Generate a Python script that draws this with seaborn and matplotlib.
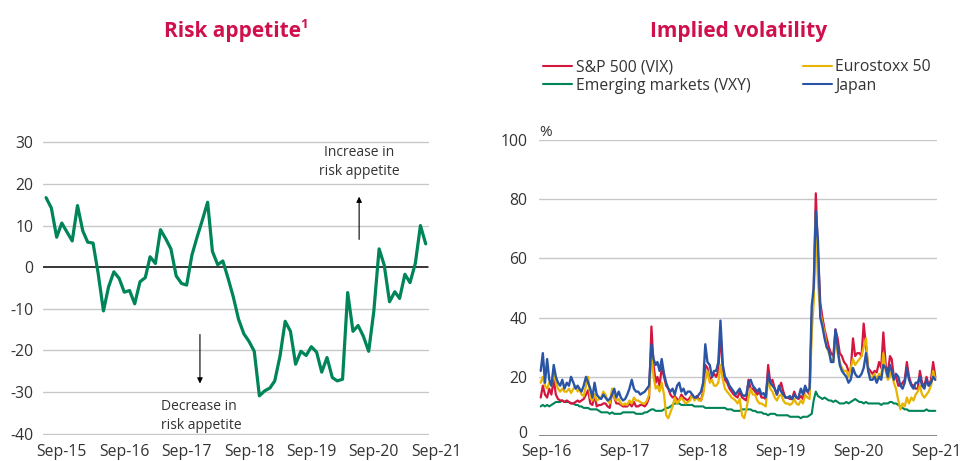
import matplotlib
matplotlib.use("Agg")
import matplotlib.pyplot as plt
import matplotlib.dates as mdates
import matplotlib.transforms as mtransforms
import seaborn as sns
import pandas as pd

# ---------------- data ----------------
# Left panel: risk appetite index, monthly (Jun-2015 .. Jul-2021)
risk_start = "2015-06-30"
risk_appetite = [
    16.7, 14.2, 7.2, 10.6, 8.4, 6.3, 14.8, 8.7, 6.0, 5.8, -1.5, -10.5,
    -4.7, -1.1, -2.7, -6.0, -5.6, -8.8, -3.5, -2.5, 2.5, 0.9, 9.0, 6.8,
    4.4, -2.1, -3.9, -4.3, 2.9, 7.2, 11.3, 15.6, 3.8, 0.6, 1.5, -2.7,
    -7.1, -12.5, -16.0, -17.8, -20.2, -30.9, -29.7, -29.0, -27.3, -21.3, -13.0, -15.4,
    -23.3, -20.2, -21.2, -19.1, -20.4, -25.2, -21.7, -26.5, -27.3, -26.9, -6.1, -15.4,
    -14.0, -16.6, -20.2, -10.6, 4.4, 0.5, -8.3, -5.9, -7.5, -1.7, -3.7, 0.9,
    10.0, 5.6,
]
risk_yticks = [-40, -30, -20, -10, 0, 10, 20, 30]
risk_xlabels = ["Sep-15", "Sep-16", "Sep-17", "Sep-18", "Sep-19", "Sep-20", "Sep-21"]

# Right panel: implied volatility, three readings per month (Sep-2016 .. Sep-2021)
vol_months = ("2016-09-01", "2021-09-01")
vol_days = [4, 14, 24]
sp500 = [
    13, 17, 14, 13, 16, 14, 19, 14, 12.5, 12, 12, 11.5,
    12, 11.5, 11, 11, 11.5, 12, 11.5, 12, 12.5, 14, 15.5, 11,
    10.5, 14, 10, 10.5, 10.5, 11, 11, 10, 9.5, 15, 13, 11,
    11, 10.5, 10, 10, 10, 11, 10, 11.5, 10, 10, 10.5, 10.5,
    10, 11, 13, 37, 24, 18, 20, 17, 23, 20, 17, 16,
    14, 13, 13.5, 12.5, 12, 14, 13, 12.5, 12, 13, 14, 12.5,
    13.5, 12.5, 12, 15, 24, 23, 19, 20, 21, 20, 22, 35,
    22, 19, 18, 16, 15, 14, 13.5, 13, 15, 13, 12.5, 12,
    19, 16, 16, 15, 14, 15, 13, 13, 12.5, 24, 18, 19,
    16, 14, 16, 18, 15, 13, 13, 12.5, 12.5, 15, 13, 12.5,
    13.5, 12.5, 16, 15, 14, 40, 48, 82, 62, 45, 40, 36,
    33, 30, 28, 27, 36, 33, 28, 27, 25, 24, 22, 22,
    33, 27, 28, 28, 27, 38, 30, 23, 22, 21, 22, 21.5,
    25, 23, 35, 24, 21, 27, 26, 20, 20, 17, 17, 18,
    19, 25, 20, 17.5, 17, 16, 16, 22, 18, 17, 20, 17,
    19, 25, 20,
]
eurostoxx = [
    18, 20, 17, 16, 18, 17, 22, 18, 16, 15, 16, 15,
    15, 16, 14.5, 16, 17, 15, 16, 14, 13.5, 17, 20, 13,
    12, 14, 12, 12.5, 13, 15, 14, 12, 11, 16, 13, 12,
    12.5, 11, 10.5, 11, 10.5, 12, 11, 13, 12, 12, 11.5, 11,
    11, 12, 14, 28, 20, 16, 17, 15, 18, 14, 7, 6,
    8, 10, 13, 11, 12, 13, 12, 11, 11.5, 12, 14, 12,
    13, 12, 12, 14, 19, 22, 18, 19, 17, 17, 18, 24,
    19, 16, 15, 14, 13, 12.5, 12, 11, 12.5, 7, 6, 9,
    13, 16, 14, 14, 12, 11, 11, 10.5, 10, 20, 16, 15,
    13, 12, 13.5, 14, 12, 11, 11, 10.5, 11, 12.5, 11, 10.5,
    12, 11, 14, 13, 12.5, 35, 45, 75, 52, 42, 38, 35,
    30, 28, 26, 25, 33, 28, 25, 23, 22, 22, 20, 23,
    26, 24, 25, 26, 27, 30, 33, 22, 20, 20, 21, 19,
    21, 20, 28, 22, 19, 20, 22, 18, 16, 12, 9, 11,
    10, 13, 11, 13, 12, 14, 15, 17, 14, 13, 14, 15,
    17, 22, 19,
]
japan = [
    22, 28, 18, 26, 19, 17, 24, 20, 18, 17, 19, 16,
    18, 17, 20, 18, 16, 17, 16, 15, 17, 20, 18, 16,
    13, 18, 14, 13, 12.5, 14, 13, 12, 12.5, 14, 16, 13,
    15, 13, 12, 12.5, 14, 16, 19, 16, 15, 15, 14, 14.5,
    15, 16, 17, 31, 26, 24, 25, 22, 26, 21, 18, 16,
    15, 16, 14, 17, 18, 15, 16, 14, 15, 15, 14, 13,
    13, 14, 15, 18, 31, 25, 24, 20, 22, 22, 25, 39,
    24, 20, 19, 17, 16, 15, 14, 15, 16, 14, 13.5, 14,
    18, 19, 17, 16, 15, 16, 14, 14.5, 13, 21, 18, 17,
    16, 14, 17, 15, 14, 13, 13, 13.5, 12.5, 14, 13, 13,
    16, 14, 17, 15, 16, 44, 50, 76, 66, 40, 37, 33,
    30, 29, 25, 25, 36, 30, 24, 22, 21, 20, 18, 19,
    23, 21, 20, 20, 21, 23, 28, 22, 19, 19, 20, 18,
    20, 19, 24, 23, 20, 24, 22, 19, 21, 20, 17, 16,
    18, 23, 19, 17, 16, 18, 18, 20, 17, 16, 19, 17,
    18, 20, 19,
]
emerging = [
    10, 10.5, 10, 10.5, 10, 10.5, 11, 11.5, 11.5, 11.5, 12, 11.5,
    11.5, 11.5, 11, 11, 10.5, 10.5, 10, 10, 9.5, 9.5, 9.5, 9,
    9, 9, 9, 8.5, 8, 8, 8, 8, 7.5, 8, 7.5, 7.5,
    7.5, 7.5, 8, 8, 8, 8, 8, 8, 7.5, 7.5, 7.5, 7.5,
    8, 8, 8.5, 9, 9, 8.5, 8.5, 8.5, 8.5, 9, 9.5, 9.5,
    10, 10.5, 11, 11, 11, 10.5, 10.5, 10.5, 10.5, 10.5, 10.5, 10,
    10, 10, 10, 10, 9.5, 9.5, 9.5, 9.5, 9.5, 9.5, 9.5, 9.5,
    9.5, 9.5, 9, 9, 9, 8.5, 8.5, 8.5, 8.5, 9, 9, 9,
    9, 9, 8.5, 8.5, 8, 8, 8, 7.5, 7.5, 7, 7.5, 7.5,
    7.5, 7, 7, 7, 7, 7, 7, 6.5, 6.5, 6.5, 6.5, 6.5,
    6, 6.5, 6.5, 6.5, 7, 7.5, 12, 15, 13.5, 13, 12.5, 13,
    12.5, 12, 12, 11.5, 12, 11.5, 11, 11, 11, 11.5, 11, 11.5,
    12, 12.5, 12, 11.5, 11.5, 11, 11.5, 11, 11, 11, 11, 11,
    11, 10.5, 11, 11, 11, 11.5, 11.5, 11, 11, 10.5, 10, 9.5,
    9, 9, 8.5, 8.5, 8.5, 8.5, 8.5, 8.5, 8.5, 8.5, 9, 8.5,
    8.5, 8.5, 8.5,
]
vol_yticks = [0, 20, 40, 60, 80, 100]
vol_xlabels = ["Sep-16", "Sep-17", "Sep-18", "Sep-19", "Sep-20", "Sep-21"]

series_names = ["S&P 500 (VIX)", "Eurostoxx 50", "Emerging markets (VXY)", "Japan"]

# ---------------- style ----------------
GREEN = "#00845a"
RED = "#d4163f"
YELLOW = "#e8b400"
BLUE = "#2a55a5"
TITLE = "#d0104c"
TEXT = "#333333"
GRID = "#c8c8c8"

sns.set_style("white")
plt.rcParams["font.family"] = ["Open Sans", "DejaVu Sans"]
plt.rcParams["axes.unicode_minus"] = False

fig = plt.figure(figsize=(9.63, 4.61), dpi=100)
axL = fig.add_axes([0.04465, 0.0564, 0.4118, 0.6377])
axR = fig.add_axes([0.5597, 0.0542, 0.4133, 0.6421])

# ---------------- left panel ----------------
risk_dates = pd.date_range(risk_start, periods=len(risk_appetite), freq="ME")
xl0 = risk_dates[0] - pd.Timedelta(days=18)
xl1 = pd.Timestamp("2021-10-20")
grid_end = risk_dates[-1] + pd.Timedelta(days=12)
frac = (mdates.date2num(grid_end) - mdates.date2num(xl0)) / (mdates.date2num(xl1) - mdates.date2num(xl0))
for yv in risk_yticks:
    axL.axhline(yv, xmin=0, xmax=frac, color="black" if yv == 0 else GRID,
                lw=1.1 if yv == 0 else 1.0, zorder=1)
sns.lineplot(x=risk_dates, y=risk_appetite, ax=axL, color=GREEN, lw=2.3, zorder=3)
axL.set_xlim(xl0, xl1)
axL.set_ylim(-40.3, 30.3)
axL.set_yticks(risk_yticks)
axL.set_yticklabels([str(v) for v in risk_yticks])
risk_ticks = [pd.Timestamp(f"20{lab[-2:]}-09-30") for lab in risk_xlabels]
axL.set_xticks(risk_ticks)
axL.set_xticklabels(risk_xlabels)
axL.tick_params(axis="y", length=0, pad=7, labelsize=11.3, labelcolor=TEXT)
axL.tick_params(axis="x", length=0, pad=6.5, labelsize=11.3, labelcolor=TEXT)
axL.set_xlabel("")
axL.set_ylabel("")
for s in axL.spines.values():
    s.set_visible(False)

axL.text(pd.Timestamp("2020-07-06"), 25.2, "Increase in\nrisk appetite", ha="center",
         va="center", fontsize=10, color=TEXT, linespacing=1.35)
axL.annotate("", xy=(pd.Timestamp("2020-07-06"), 17.6), xytext=(pd.Timestamp("2020-07-06"), 6.0),
             arrowprops=dict(arrowstyle="-|>", color="black", lw=0.8, mutation_scale=8))
axL.text(pd.Timestamp("2017-05-03"), -35.8, "Decrease in\nrisk appetite", ha="left",
         va="center", fontsize=10, color=TEXT, linespacing=1.35)
axL.annotate("", xy=(pd.Timestamp("2017-12-17"), -28.6), xytext=(pd.Timestamp("2017-12-17"), -15.5),
             arrowprops=dict(arrowstyle="-|>", color="black", lw=0.8, mutation_scale=8))

# ---------------- right panel ----------------
months = pd.date_range(vol_months[0], vol_months[1], freq="MS")
vol_dates = [m + pd.Timedelta(days=d) for m in months for d in vol_days]
for name, arr in zip(series_names, [sp500, eurostoxx, emerging, japan]):
    if len(arr) != len(vol_dates):
        raise ValueError(f"{name}: {len(arr)} vs {len(vol_dates)}")

for yv in vol_yticks[1:]:
    axR.axhline(yv, color=GRID, lw=1.0, zorder=1)
axR.axhline(0, color="#8c8c8c", lw=2.2, zorder=1)

lines = {}
for name, arr, col, lw in [("Emerging markets (VXY)", emerging, GREEN, 1.5),
                           ("S&P 500 (VIX)", sp500, RED, 1.6),
                           ("Eurostoxx 50", eurostoxx, YELLOW, 1.6),
                           ("Japan", japan, BLUE, 1.7)]:
    sns.lineplot(x=vol_dates, y=arr, ax=axR, color=col, lw=lw, zorder=3, label=name)
    lines[name] = axR.get_lines()[-1]

axR.set_xlim(pd.Timestamp("2016-08-28"), pd.Timestamp("2021-10-03"))
axR.set_ylim(0, 100)
axR.set_yticks(vol_yticks)
axR.set_yticklabels([str(v) for v in vol_yticks])
vol_ticks = [pd.Timestamp(f"20{lab[-2:]}-09-30") for lab in vol_xlabels]
axR.set_xticks(vol_ticks)
axR.set_xticklabels(vol_xlabels)
axR.tick_params(axis="y", length=0, pad=8.5, labelsize=11.3, labelcolor=TEXT)
axR.tick_params(axis="x", length=0, pad=6, labelsize=11.3, labelcolor=TEXT)
axR.set_xlabel("")
axR.set_ylabel("")
for s in axR.spines.values():
    s.set_visible(False)
axR.legend_.remove()

# lift the "0" label a touch so it clears the first date label
zero_lab = axR.get_yticklabels()[0]
zero_lab.set_transform(zero_lab.get_transform() +
                       mtransforms.ScaledTranslation(0, 3 / 72, fig.dpi_scale_trans))

order = ["S&P 500 (VIX)", "Emerging markets (VXY)", "Eurostoxx 50", "Japan"]
leg = fig.legend([lines[n] for n in order], order, loc="upper left",
                 bbox_to_anchor=(0.5639, 0.871), ncol=2, frameon=False, fontsize=11.3,
                 handlelength=1.85, handletextpad=0.25, columnspacing=3.3,
                 labelspacing=0.15, borderpad=0, borderaxespad=0, labelcolor=TEXT)
for h in leg.legend_handles:
    h.set_linewidth(1.5)

fig.text(539 / 963, 1 - 136 / 461, "%", fontsize=11, color=TEXT, ha="left", va="baseline")

# ---------------- titles ----------------
fig.text(232.5 / 963, 1 - 37 / 461, "Risk appetite", fontsize=15, fontweight="bold",
         color=TITLE, ha="center", va="baseline")
fig.text(300 / 963, 1 - 28 / 461, "1", fontsize=9.5, fontweight="bold",
         color=TITLE, ha="left", va="baseline")
fig.text(738.5 / 963, 1 - 37 / 461, "Implied volatility", fontsize=15, fontweight="bold",
         color=TITLE, ha="center", va="baseline")

fig.savefig("out.png", dpi=100)
